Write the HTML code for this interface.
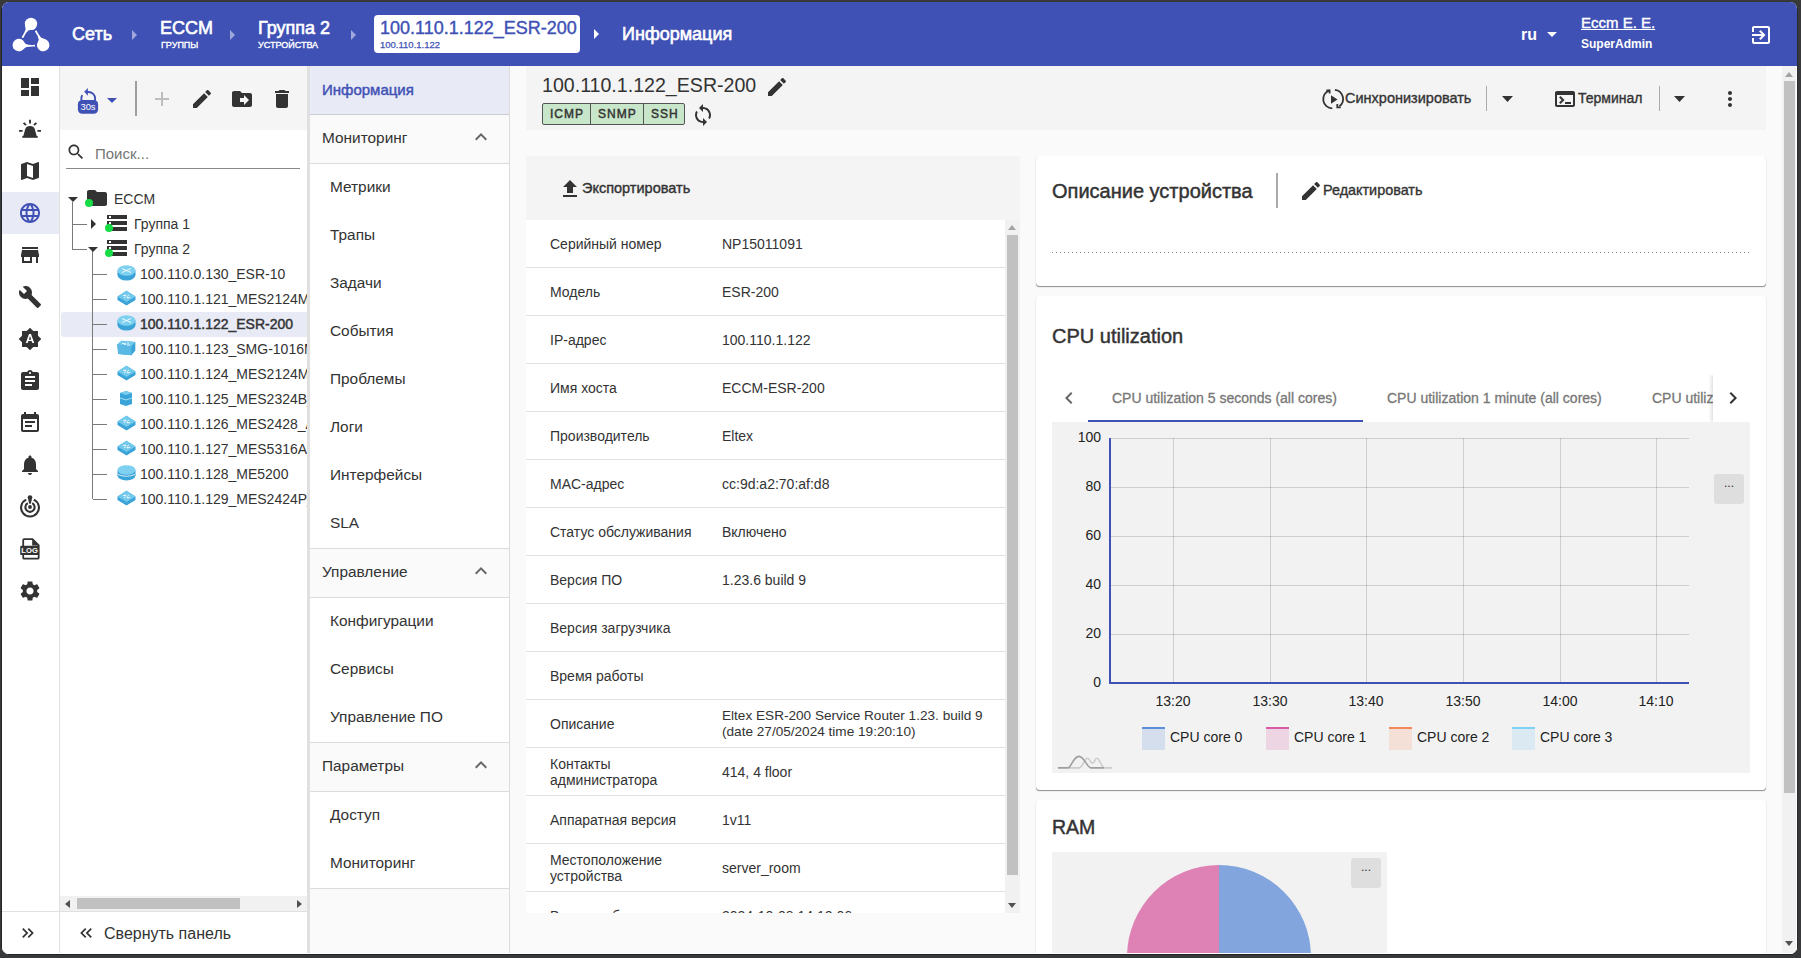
<!DOCTYPE html>
<html><head><meta charset="utf-8">
<style>
*{box-sizing:border-box;margin:0;padding:0}
html,body{width:1801px;height:958px;overflow:hidden;background:#38393b;font-family:"Liberation Sans",sans-serif;color:#333}
#win{position:absolute;left:0;top:0;width:1801px;height:958px;background:#fafafa;clip-path:inset(2px 4px 4px 2px round 7px)}
.a{position:absolute}
.t{position:absolute;white-space:nowrap;line-height:1}
svg{position:absolute;display:block;overflow:visible}
.b{font-weight:bold}
</style></head><body>
<div id="win">
<!-- HEADER -->
<div class="a" style="left:0;top:0;width:1801px;height:66px;background:#3f51b5"></div>
<!-- logo -->
<svg style="left:12px;top:17px" width="38" height="36" viewBox="0 0 38 36"><g fill="#fff"><g><circle cx="19" cy="6.9" r="6.2"/><path d="M13.1 8.5L13.6 12.6Q12.6 15.6 9.5 20.5L11.3 20.9Q13.6 15.6 16.4 13.6Q18.6 12.5 22 12.4L24 10z"/></g><g transform="rotate(120 19 21)"><circle cx="19" cy="6.9" r="6.2"/><path d="M13.1 8.5L13.6 12.6Q12.6 15.6 9.5 20.5L11.3 20.9Q13.6 15.6 16.4 13.6Q18.6 12.5 22 12.4L24 10z"/></g><g transform="rotate(240 19 21)"><circle cx="19" cy="6.9" r="6.2"/><path d="M13.1 8.5L13.6 12.6Q12.6 15.6 9.5 20.5L11.3 20.9Q13.6 15.6 16.4 13.6Q18.6 12.5 22 12.4L24 10z"/></g></g></svg>
<div class="t" style="left:72px;top:25px;font-size:18px;color:#fff;-webkit-text-stroke:0.6px #fff">Сеть</div>
<svg style="left:132px;top:30px" width="6" height="10"><path d="M0 0L5 5L0 10z" fill="#9fa8da"/></svg>
<div class="t" style="left:160px;top:19px;font-size:18px;color:#fff;-webkit-text-stroke:0.6px #fff">ECCM</div>
<div class="t" style="left:161px;top:40.5px;font-size:9px;color:#fff;-webkit-text-stroke:0.35px #fff">ГРУППЫ</div>
<svg style="left:230px;top:30px" width="6" height="10"><path d="M0 0L5 5L0 10z" fill="#9fa8da"/></svg>
<div class="t" style="left:258px;top:19px;font-size:18px;color:#fff;-webkit-text-stroke:0.6px #fff">Группа 2</div>
<div class="t" style="left:258px;top:40.5px;font-size:9px;color:#fff;-webkit-text-stroke:0.35px #fff">УСТРОЙСТВА</div>
<svg style="left:351px;top:30px" width="6" height="10"><path d="M0 0L5 5L0 10z" fill="#9fa8da"/></svg>
<div class="a" style="left:374px;top:15px;width:206px;height:38px;background:#fff;border-radius:4px"></div>
<div class="t" style="left:380px;top:19px;font-size:18px;color:#3f51b5;-webkit-text-stroke:0.4px #3f51b5">100.110.1.122_ESR-200</div>
<div class="t" style="left:380px;top:40px;font-size:9.5px;color:#3f51b5;-webkit-text-stroke:0.25px #3f51b5">100.110.1.122</div>
<svg style="left:594px;top:29px" width="6" height="10"><path d="M0 0L5 5L0 10z" fill="#fff"/></svg>
<div class="t" style="left:622px;top:25px;font-size:18px;color:#fff;-webkit-text-stroke:0.6px #fff">Информация</div>

<div class="t b" style="left:1521px;top:27px;font-size:16px;color:#fff">ru</div>
<svg style="left:1547px;top:32px" width="10" height="5"><path d="M0 0L10 0L5 5z" fill="#fff"/></svg>
<div class="t b" style="left:1581px;top:15px;font-size:15px;color:#fff;text-decoration:underline;font-weight:normal;-webkit-text-stroke:0.4px #fff">Eccm E. E.</div>
<div class="t b" style="left:1581px;top:38px;font-size:12px;color:#fff">SuperAdmin</div>
<svg style="left:1749px;top:23px" width="24" height="24" viewBox="0 0 24 24"><path fill="#fff" d="M10.09 15.59L11.5 17l5-5-5-5-1.41 1.41L12.67 11H3v2h9.67l-2.58 2.59zM19 3H5c-1.11 0-2 .9-2 2v4h2V5h14v14H5v-4H3v4c0 1.1.89 2 2 2h14c1.1 0 2-.9 2-2V5c0-1.1-.9-2-2-2z"/></svg>

<!-- RAIL -->
<div class="a" style="left:2px;top:66px;width:58px;height:890px;background:#fff;border-right:1px solid #e0e0e0"></div>
<div class="a" style="left:2px;top:192px;width:57px;height:42px;background:#e8eaf6"></div>
<svg style="left:18px;top:75px" width="24" height="24" viewBox="0 0 24 24"><path fill="#333" d="M3 13h8V3H3v10zm0 8h8v-6H3v6zm10 0h8V11h-8v10zm0-18v6h8V3h-8z"/></svg>
<svg style="left:18px;top:117px" width="24" height="24" viewBox="0 0 24 24"><path d="M5 20L7.2 12.3Q8.2 9 12 9Q15.8 9 16.8 12.3L19 20z" fill="#333"/><rect x="4.3" y="19" width="15.4" height="1.8" fill="#333"/><g stroke="#333" stroke-width="1.9"><path d="M12 2.8V6.6M5.6 5.8L8 8.2M18.4 5.8L16 8.2M1 13.9H4.6M19.4 13.9H23"/></g></svg>
<svg style="left:18px;top:159px" width="24" height="24" viewBox="0 0 24 24"><path fill="#333" d="M20.5 3l-.16.03L15 5.1 9 3 3.36 4.9c-.21.07-.36.25-.36.48V20.5c0 .28.22.5.5.5l.16-.03L9 18.9l6 2.1 5.64-1.9c.21-.07.36-.25.36-.48V3.5c0-.28-.22-.5-.5-.5zM15 19l-6-2.11V5l6 2.11V19z"/></svg>
<svg style="left:18px;top:201px" width="24" height="24" viewBox="0 0 24 24"><path fill="#3f51b5" d="M11.99 2C6.47 2 2 6.48 2 12s4.47 10 9.99 10C17.52 22 22 17.52 22 12S17.52 2 11.99 2zm6.93 6h-2.950c-.32-1.25-.78-2.45-1.38-3.56 1.84.63 3.37 1.91 4.33 3.56zM12 4.04c.83 1.2 1.48 2.53 1.91 3.96h-3.82c.43-1.43 1.08-2.76 1.910-3.96zM4.26 14C4.1 13.36 4 12.69 4 12s.1-1.36.26-2h3.38c-.08.66-.14 1.32-.14 2 0 .68.06 1.34.14 2H4.26zm.82 2h2.95c.32 1.25.78 2.45 1.38 3.56-1.84-.63-3.37-1.9-4.33-3.56zm2.95-8H5.08c.96-1.66 2.49-2.93 4.33-3.56C8.81 5.55 8.35 6.75 8.03 8zM12 19.96c-.83-1.2-1.48-2.53-1.91-3.96h3.82c-.43 1.43-1.08 2.76-1.91 3.960zM14.34 14H9.66c-.09-.66-.16-1.32-.16-2 0-.68.07-1.35.16-2h4.68c.09.65.16 1.32.16 2 0 .68-.07 1.34-.16 2zm.25 5.56c.6-1.11 1.06-2.31 1.38-3.56h2.95c-.96 1.65-2.49 2.93-4.33 3.56zM16.36 14c.08-.66.14-1.32.14-2 0-.68-.06-1.34-.14-2h3.38c.16.64.26 1.31.26 2s-.1 1.36-.26 2h-3.38z"/></svg>
<svg style="left:18px;top:243px" width="24" height="24" viewBox="0 0 24 24"><path fill="#333" d="M20 4H4v2h16V4zm1 10v-2l-1-5H4l-1 5v2h1v6h10v-6h4v6h2v-6h1zm-9 4H6v-4h6v4z"/></svg>
<svg style="left:18px;top:285px" width="24" height="24" viewBox="0 0 24 24"><path fill="#333" d="M22.7 19l-9.1-9.1c.9-2.3.4-5-1.5-6.9-2-2-5-2.4-7.4-1.3L9 6 6 9 1.6 4.7C.4 7.1.9 10.1 2.9 12.1c1.9 1.9 4.6 2.4 6.9 1.5l9.1 9.1c.4.4 1 .4 1.4 0l2.3-2.3c.5-.4.5-1.1.1-1.4z"/></svg>
<svg style="left:18px;top:327px" width="24" height="24" viewBox="0 0 24 24"><path fill="#333" d="M10.85 12.65h2.3L12 9l-1.15 3.65zM20 8.69V4h-4.69L12 .69 8.69 4H4v4.69L.69 12 4 15.31V20h4.69L12 23.31 15.31 20H20v-4.690L23.31 12 20 8.69zM14.3 16l-.7-2h-3.2l-.7 2H7.8L11 7h2l3.2 9h-1.9z"/></svg>
<svg style="left:18px;top:369px" width="24" height="24" viewBox="0 0 24 24"><path fill="#333" d="M19 3h-4.18C14.4 1.84 13.3 1 12 1c-1.3 0-2.4.84-2.82 2H5c-1.1 0-2 .9-2 2v14c0 1.1.9 2 2 2h14c1.1 0 2-.9 2-2V5c0-1.1-.9-2-2-2zm-7 0c.55 0 1 .45 1 1s-.45 1-1 1-1-.45-1-1 .45-1 1-1zm2 14H7v-2h7v2zm3-4H7v-2h10v2zm0-4H7V7h10v2z"/></svg>
<svg style="left:18px;top:411px" width="24" height="24" viewBox="0 0 24 24"><path fill="#333" d="M17 10H7v2h10v-2zm2-7h-1V1h-2v2H8V1H6v2H5c-1.11 0-1.99.9-1.99 2L3 19c0 1.1.89 2 2 2h14c1.1 0 2-.9 2-2V5c0-1.1-.9-2-2-2zm0 16H5V8h14v11zm-5-5H7v2h7v-2z"/></svg>
<svg style="left:18px;top:453px" width="24" height="24" viewBox="0 0 24 24"><path fill="#333" d="M12 22c1.1 0 2-.9 2-2h-4c0 1.1.89 2 2 2zm6-6v-5c0-3.07-1.64-5.64-4.5-6.32V4c0-.83-.67-1.5-1.5-1.5s-1.5.67-1.5 1.5v.68C7.63 5.36 6 7.92 6 11v5l-2 2v1h16v-1l-2-2z"/></svg>
<svg style="left:18px;top:495px" width="24" height="24" viewBox="0 0 24 24"><g fill="none" stroke="#333" stroke-width="2.1"><path d="M8.2 4.6A8.9 8.9 0 1 0 15.8 4.6"/><path d="M9.8 8.2A4.6 4.6 0 1 0 14.2 8.2"/></g><path d="M9.7 2.2Q9.7 0.2 12 0.2Q14.3 0.2 14.3 2.2L12.9 8.4Q12 9.2 11.1 8.4z" fill="#333"/><circle cx="12" cy="12" r="1.9" fill="#333"/></svg>
<svg style="left:18px;top:537px" width="24" height="24" viewBox="0 0 24 24"><path d="M5.2 3.2a1 1 0 0 1 1-1h8.3l6.2 6.2v12.3a1 1 0 0 1-1 1H6.2a1 1 0 0 1-1-1z" fill="none" stroke="#333" stroke-width="1.8"/><path d="M14.2 2.2v6.2h6.5z" fill="#333"/><rect x="2.2" y="8.7" width="18.6" height="9.4" rx="1.2" fill="#333"/><text x="11.6" y="16.3" font-size="7.6" font-weight="bold" text-anchor="middle" fill="#fff" font-family="Liberation Sans">LOG</text></svg>
<svg style="left:18px;top:579px" width="24" height="24" viewBox="0 0 24 24"><path fill="#333" d="M19.14 12.94c.04-.3.06-.61.06-.94 0-.32-.02-.64-.07-.94l2.03-1.58c.18-.14.23-.41.12-.61l-1.92-3.32c-.12-.22-.37-.29-.59-.22l-2.39.96c-.5-.38-1.03-.7-1.62-.94l-.36-2.54c-.04-.24-.24-.41-.48-.41h-3.84c-.24 0-.43.17-.47.41l-.36 2.54c-.59.24-1.13.57-1.62.94l-2.39-.96c-.22-.08-.47 0-.59.22L2.74 8.870c-.12.21-.08.47.12.61l2.03 1.58c-.05.3-.09.63-.09.94s.02.64.07.94l-2.03 1.58c-.18.14-.23.41-.12.61l1.92 3.32c.12.22.37.29.59.22l2.39-.96c.5.38 1.03.7 1.62.94l.36 2.54c.05.24.24.41.48.41h3.84c.24 0 .44-.17.47-.41l.36-2.54c.59-.24 1.130-.56 1.62-.94l2.39.96c.22.08.47 0 .59-.22l1.92-3.32c.12-.22.07-.47-.12-.61l-2.01-1.58zM12 15.6c-1.98 0-3.6-1.62-3.6-3.6s1.62-3.6 3.6-3.6 3.6 1.62 3.6 3.6-1.62 3.6-3.6 3.6z"/></svg>
<div class="a" style="left:2px;top:911px;width:57px;height:1px;background:#e0e0e0"></div>
<svg style="left:18px;top:923px" width="20" height="20" viewBox="0 0 24 24"><path fill="#333" d="M6.41 6L5 7.41 9.58 12 5 16.59 6.41 18l6-6z M13 6l-1.41 1.41L16.17 12l-4.58 4.59L13 18l6-6z"/></svg>

<!-- TREE PANEL -->
<div class="a" style="left:60px;top:66px;width:247px;height:64px;background:#f5f5f5"></div>
<div class="a" style="left:60px;top:130px;width:247px;height:780px;background:#fff"></div>
<div class="a" style="left:307px;top:66px;width:3px;height:890px;background:#e0e0e0"></div>
<!-- 30s icon -->
<svg style="left:77px;top:88px" width="22" height="26" viewBox="0 0 22 26"><g fill="none" stroke="#3f51b5" stroke-width="1.9"><path d="M18.1 12.8V10.6A6.6 6.6 0 0 0 11.5 4H10.2"/><path d="M4.4 12.8V9.8Q4.5 8.2 5.4 7.2"/></g><path d="M7.2 3.8L10.9 0V7.7z" fill="#3f51b5"/><rect x="0.9" y="12.1" width="20.2" height="13.7" rx="4.2" fill="#3f51b5"/><text x="11" y="22.2" font-size="9.4" text-anchor="middle" fill="#fff" font-family="Liberation Sans">30s</text></svg>
<svg style="left:107px;top:98px" width="10" height="5"><path d="M0 0L10 0L5 5z" fill="#3f51b5"/></svg>
<div class="a" style="left:135px;top:81px;width:2px;height:35px;background:#9e9e9e"></div>
<svg style="left:150px;top:87px" width="24" height="24" viewBox="0 0 24 24"><path fill="#bdbdbd" d="M19 13h-6v6h-2v-6H5v-2h6V5h2v6h6v2z"/></svg>
<svg style="left:190px;top:87px" width="24" height="24" viewBox="0 0 24 24"><path fill="#333" d="M3 17.25V21h3.75L17.81 9.94l-3.75-3.75L3 17.25zM20.71 7.04c.39-.39.39-1.02 0-1.41l-2.34-2.34c-.39-.39-1.020-.39-1.41 0l-1.83 1.83 3.75 3.75 1.83-1.83z"/></svg>
<svg style="left:230px;top:87px" width="24" height="24" viewBox="0 0 24 24"><path fill="#333" d="M20 6h-8l-2-2H4c-1.1 0-1.99.9-1.99 2L2 18c0 1.1.9 2 2 2h16c1.1 0 2-.9 2-2V8c0-1.1-.9-2-2-2zm-6 12v-3h-4v-4h4V8l5 5-5 5z"/></svg>
<svg style="left:270px;top:87px" width="24" height="24" viewBox="0 0 24 24"><path fill="#333" d="M6 19c0 1.1.9 2 2 2h8c1.1 0 2-.9 2-2V7H6v12zM19 4h-3.5l-1-1h-5l-1 1H5v2h14V4z"/></svg>
<!-- search -->
<svg style="left:66px;top:142px" width="20" height="20" viewBox="0 0 24 24"><path fill="#333" d="M15.5 14h-.79l-.28-.27C15.41 12.59 16 11.11 16 9.5 16 5.91 13.09 3 9.5 3S3 5.91 3 9.5 5.91 16 9.5 16c1.61 0 3.09-.59 4.23-1.57l.27.28v.79l5 4.99L20.49 19l-4.99-5zm-6 0C7.01 14 5 11.99 5 9.5S7.01 5 9.5 5 14 7.01 14 9.5 11.99 14 9.5 14z"/></svg>
<div class="t" style="left:95px;top:146px;font-size:15px;color:#757575">Поиск...</div>
<div class="a" style="left:66px;top:168px;width:234px;height:1px;background:#8a8a8a"></div>
<!-- tree lines -->
<div class="a" style="left:61px;top:312px;width:246px;height:25px;background:#e8eaf6;border-radius:3px 0 0 3px"></div>
<div class="a" style="left:72px;top:202px;width:1px;height:48px;background:#7a7a7a"></div>
<div class="a" style="left:72px;top:224px;width:15px;height:1px;background:#7a7a7a"></div>
<div class="a" style="left:72px;top:249px;width:15px;height:1px;background:#7a7a7a"></div>
<div class="a" style="left:92px;top:251px;width:1px;height:248px;background:#7a7a7a"></div>
<svg style="left:68px;top:197px" width="10" height="5"><path d="M0 0L10 0L5 5z" fill="#333"/></svg>
<svg style="left:91px;top:219px" width="6" height="10"><path d="M0 0L5 5L0 10z" fill="#333"/></svg>
<svg style="left:88px;top:247px" width="10" height="5"><path d="M0 0L10 0L5 5z" fill="#333"/></svg>
<svg style="left:85px;top:186px" width="24" height="24" viewBox="0 0 24 24"><path fill="#333" d="M10 4H4c-1.1 0-1.99.9-1.99 2L2 18c0 1.1.9 2 2 2h16c1.1 0 2-.9 2-2V8c0-1.1-.9-2-2-2h-8l-2-2z"/></svg>
<div class="a" style="left:85px;top:199px;width:8px;height:8px;border-radius:50%;background:#17dc45"></div>
<div class="t" style="left:114px;top:192px;font-size:14px;color:#333">ECCM</div>
<svg style="left:107px;top:215px" width="20" height="16" viewBox="0 0 20 16"><g fill="#333"><rect x="0" y="0" width="20" height="4"/><rect x="0" y="6" width="20" height="4"/><rect x="0" y="12" width="20" height="4"/></g><g fill="#fff"><rect x="2" y="1" width="2" height="2"/><rect x="2" y="7" width="2" height="2"/></g></svg><div class="a" style="left:105px;top:224px;width:8px;height:8px;border-radius:50%;background:#17dc45"></div><div class="t" style="left:134px;top:217px;font-size:14px;color:#333">Группа 1</div><svg style="left:107px;top:240px" width="20" height="16" viewBox="0 0 20 16"><g fill="#333"><rect x="0" y="0" width="20" height="4"/><rect x="0" y="6" width="20" height="4"/><rect x="0" y="12" width="20" height="4"/></g><g fill="#fff"><rect x="2" y="1" width="2" height="2"/><rect x="2" y="7" width="2" height="2"/></g></svg><div class="a" style="left:105px;top:249px;width:8px;height:8px;border-radius:50%;background:#17dc45"></div><div class="t" style="left:134px;top:242px;font-size:14px;color:#333">Группа 2</div><div class="a" style="left:93px;top:274px;width:14px;height:1px;background:#7a7a7a"></div><svg style="left:117px;top:265px" width="19" height="16" viewBox="0 0 19 16"><ellipse cx="9.5" cy="10" rx="9" ry="5.5" fill="#3aa3d8"/><rect x="0.5" y="5.5" width="18" height="4.5" fill="#3aa3d8"/><ellipse cx="9.5" cy="5.5" rx="9" ry="5.2" fill="#7dd0ef"/><path d="M5 3.5L14 7.5M14 3.5L5 7.5" stroke="#fff" stroke-width="0.9"/></svg><div class="t" style="left:140px;top:267px;width:167px;overflow:hidden;padding-bottom:4px;font-size:14px;color:#333;">100.110.0.130_ESR-10</div><div class="a" style="left:93px;top:299px;width:14px;height:1px;background:#7a7a7a"></div><svg style="left:117px;top:290px" width="19" height="16" viewBox="0 0 19 16"><path d="M0.5 6.5L9.5 1L18.5 6.5V10L9.5 15.5L0.5 10z" fill="#3aa3d8"/><path d="M0.5 6.5L9.5 0.5L18.5 6.5L9.5 12z" fill="#72c9ec"/><path d="M6 5.5h3l-1-1M13 7.5h-3l1 1M7 8l2-1.5M12 5l-2 1.5" stroke="#fff" stroke-width="0.8" fill="none"/></svg><div class="t" style="left:140px;top:292px;width:167px;overflow:hidden;padding-bottom:4px;font-size:14px;color:#333;">100.110.1.121_MES2124MB</div><div class="a" style="left:93px;top:324px;width:14px;height:1px;background:#7a7a7a"></div><svg style="left:117px;top:315px" width="19" height="16" viewBox="0 0 19 16"><ellipse cx="9.5" cy="10" rx="9" ry="5.5" fill="#3aa3d8"/><rect x="0.5" y="5.5" width="18" height="4.5" fill="#3aa3d8"/><ellipse cx="9.5" cy="5.5" rx="9" ry="5.2" fill="#7dd0ef"/><path d="M5 3.5L14 7.5M14 3.5L5 7.5" stroke="#fff" stroke-width="0.9"/></svg><div class="t" style="left:140px;top:317px;width:167px;overflow:hidden;padding-bottom:4px;font-size:14px;color:#333;-webkit-text-stroke:0.45px #333;">100.110.1.122_ESR-200</div><div class="a" style="left:93px;top:349px;width:14px;height:1px;background:#7a7a7a"></div><svg style="left:117px;top:340px" width="19" height="16" viewBox="0 0 19 16"><path d="M0.3 4.5L4.5 0.8L18.3 2V10.5L14.5 15.2L1.2 14z" fill="#3aa3d8"/><path d="M0.3 4.5L4.5 0.8L18.3 2L14.3 6.2z" fill="#72c9ec"/><path d="M0.3 4.5L14.3 6.2L14.5 15.2L1.2 14z" fill="#5ab8e4"/><circle cx="8" cy="4" r="0.9" fill="#fff"/><circle cx="11" cy="3" r="0.7" fill="#fff"/><path d="M5 3.5h2M10 5h3" stroke="#fff" stroke-width="0.8"/></svg><div class="t" style="left:140px;top:342px;width:167px;overflow:hidden;padding-bottom:4px;font-size:14px;color:#333;">100.110.1.123_SMG-1016M</div><div class="a" style="left:93px;top:374px;width:14px;height:1px;background:#7a7a7a"></div><svg style="left:117px;top:365px" width="19" height="16" viewBox="0 0 19 16"><path d="M0.5 6.5L9.5 1L18.5 6.5V10L9.5 15.5L0.5 10z" fill="#3aa3d8"/><path d="M0.5 6.5L9.5 0.5L18.5 6.5L9.5 12z" fill="#72c9ec"/><path d="M6 5.5h3l-1-1M13 7.5h-3l1 1M7 8l2-1.5M12 5l-2 1.5" stroke="#fff" stroke-width="0.8" fill="none"/></svg><div class="t" style="left:140px;top:367px;width:167px;overflow:hidden;padding-bottom:4px;font-size:14px;color:#333;">100.110.1.124_MES2124MB</div><div class="a" style="left:93px;top:399px;width:14px;height:1px;background:#7a7a7a"></div><svg style="left:117px;top:390px" width="19" height="16" viewBox="0 0 19 16"><path d="M3 3L9 1L15 3V14L9 16L3 14z" fill="#3aa3d8"/><path d="M3 3L9 1L15 3L9 5z" fill="#79cdee"/><path d="M3 8L9 10L15 8" stroke="#9fe0f5" stroke-width="1" fill="none"/></svg><div class="t" style="left:140px;top:392px;width:167px;overflow:hidden;padding-bottom:4px;font-size:14px;color:#333;">100.110.1.125_MES2324B_</div><div class="a" style="left:93px;top:424px;width:14px;height:1px;background:#7a7a7a"></div><svg style="left:117px;top:415px" width="19" height="16" viewBox="0 0 19 16"><path d="M0.5 6.5L9.5 1L18.5 6.5V10L9.5 15.5L0.5 10z" fill="#3aa3d8"/><path d="M0.5 6.5L9.5 0.5L18.5 6.5L9.5 12z" fill="#72c9ec"/><path d="M6 5.5h3l-1-1M13 7.5h-3l1 1M7 8l2-1.5M12 5l-2 1.5" stroke="#fff" stroke-width="0.8" fill="none"/></svg><div class="t" style="left:140px;top:417px;width:167px;overflow:hidden;padding-bottom:4px;font-size:14px;color:#333;">100.110.1.126_MES2428_A</div><div class="a" style="left:93px;top:449px;width:14px;height:1px;background:#7a7a7a"></div><svg style="left:117px;top:440px" width="19" height="16" viewBox="0 0 19 16"><path d="M0.5 6.5L9.5 1L18.5 6.5V10L9.5 15.5L0.5 10z" fill="#3aa3d8"/><path d="M0.5 6.5L9.5 0.5L18.5 6.5L9.5 12z" fill="#72c9ec"/><path d="M6 5.5h3l-1-1M13 7.5h-3l1 1M7 8l2-1.5M12 5l-2 1.5" stroke="#fff" stroke-width="0.8" fill="none"/></svg><div class="t" style="left:140px;top:442px;width:167px;overflow:hidden;padding-bottom:4px;font-size:14px;color:#333;">100.110.1.127_MES5316A</div><div class="a" style="left:93px;top:474px;width:14px;height:1px;background:#7a7a7a"></div><svg style="left:117px;top:465px" width="19" height="16" viewBox="0 0 19 16"><ellipse cx="9.5" cy="10.5" rx="9" ry="5" fill="#3aa3d8"/><rect x="0.5" y="5" width="18" height="5.5" fill="#3aa3d8"/><ellipse cx="9.5" cy="5" rx="9" ry="4.8" fill="#7dd0ef"/><path d="M1 9.5Q9.5 13 18 9.5" stroke="#fff" stroke-width="0.8" fill="none"/></svg><div class="t" style="left:140px;top:467px;width:167px;overflow:hidden;padding-bottom:4px;font-size:14px;color:#333;">100.110.1.128_ME5200</div><div class="a" style="left:93px;top:499px;width:14px;height:1px;background:#7a7a7a"></div><svg style="left:117px;top:490px" width="19" height="16" viewBox="0 0 19 16"><path d="M0.5 6.5L9.5 1L18.5 6.5V10L9.5 15.5L0.5 10z" fill="#3aa3d8"/><path d="M0.5 6.5L9.5 0.5L18.5 6.5L9.5 12z" fill="#72c9ec"/><path d="M6 5.5h3l-1-1M13 7.5h-3l1 1M7 8l2-1.5M12 5l-2 1.5" stroke="#fff" stroke-width="0.8" fill="none"/></svg><div class="t" style="left:140px;top:492px;width:167px;overflow:hidden;padding-bottom:4px;font-size:14px;color:#333;">100.110.1.129_MES2424P_</div>
<div class="a" style="left:60px;top:102px;width:0;height:0"></div>
<!-- horizontal scrollbar -->
<div class="a" style="left:60px;top:910px;width:247px;height:46px;background:#fff"></div>
<div class="a" style="left:60px;top:896px;width:247px;height:15px;background:#f1f1f1"></div>
<div class="a" style="left:77px;top:898px;width:163px;height:11px;background:#c1c1c1"></div>
<svg style="left:65px;top:900px" width="5" height="8"><path d="M5 0L0 4L5 8z" fill="#505050"/></svg>
<svg style="left:297px;top:900px" width="5" height="8"><path d="M0 0L5 4L0 8z" fill="#505050"/></svg>
<div class="a" style="left:60px;top:911px;width:247px;height:1px;background:#e0e0e0"></div>
<div class="a" style="left:59px;top:910px;width:1px;height:46px;background:#e0e0e0"></div>
<svg style="left:76px;top:923px" width="20" height="20" viewBox="0 0 24 24"><path fill="#333" d="M17.59 18L19 16.59 14.42 12 19 7.41 17.59 6l-6 6z M11 18l1.41-1.41L7.83 12l4.58-4.59L11 6l-6 6z"/></svg>
<div class="t" style="left:104px;top:926px;font-size:16px;color:#333">Свернуть панель</div>

<!-- NAV COL -->
<div class="a" style="left:310px;top:66px;width:200px;height:890px;background:#fafafa;border-right:1px solid #dcdcdc"></div>
<div class="a" style="left:310px;top:66px;width:199px;height:48px;background:#e8eaf6"></div>
<div class="a" style="left:310px;top:114px;width:199px;height:1px;background:#c9cbd6"></div>
<div class="t" style="left:322px;top:82px;font-size:15px;color:#3f51b5;-webkit-text-stroke:0.45px #3f51b5">Информация</div>
<div class="a" style="left:310px;top:163px;width:199px;height:1px;background:#dcdcdc"></div>
<div class="t" style="left:322px;top:130px;font-size:15.4px;color:#333">Мониторинг</div>
<svg style="left:469px;top:125px" width="24" height="24" viewBox="0 0 24 24"><path fill="#666" d="M12 8l-6 6 1.41 1.41L12 10.83l4.59 4.58L18 14z"/></svg>
<div class="a" style="left:310px;top:164px;width:199px;height:384px;background:#fff"></div><div class="t" style="left:330px;top:179px;font-size:15.4px;color:#333">Метрики</div><div class="t" style="left:330px;top:227px;font-size:15.4px;color:#333">Трапы</div><div class="t" style="left:330px;top:275px;font-size:15.4px;color:#333">Задачи</div><div class="t" style="left:330px;top:323px;font-size:15.4px;color:#333">События</div><div class="t" style="left:330px;top:371px;font-size:15.4px;color:#333">Проблемы</div><div class="t" style="left:330px;top:419px;font-size:15.4px;color:#333">Логи</div><div class="t" style="left:330px;top:467px;font-size:15.4px;color:#333">Интерфейсы</div><div class="t" style="left:330px;top:515px;font-size:15.4px;color:#333">SLA</div><div class="a" style="left:310px;top:548px;width:199px;height:1px;background:#dcdcdc"></div><div class="a" style="left:310px;top:597px;width:199px;height:1px;background:#dcdcdc"></div>
<div class="t" style="left:322px;top:564px;font-size:15.4px;color:#333">Управление</div>
<svg style="left:469px;top:559px" width="24" height="24" viewBox="0 0 24 24"><path fill="#666" d="M12 8l-6 6 1.41 1.41L12 10.83l4.59 4.58L18 14z"/></svg>
<div class="a" style="left:310px;top:598px;width:199px;height:144px;background:#fff"></div><div class="t" style="left:330px;top:613px;font-size:15.4px;color:#333">Конфигурации</div><div class="t" style="left:330px;top:661px;font-size:15.4px;color:#333">Сервисы</div><div class="t" style="left:330px;top:709px;font-size:15.4px;color:#333">Управление ПО</div><div class="a" style="left:310px;top:742px;width:199px;height:1px;background:#dcdcdc"></div><div class="a" style="left:310px;top:791px;width:199px;height:1px;background:#dcdcdc"></div>
<div class="t" style="left:322px;top:758px;font-size:15.4px;color:#333">Параметры</div>
<svg style="left:469px;top:753px" width="24" height="24" viewBox="0 0 24 24"><path fill="#666" d="M12 8l-6 6 1.41 1.41L12 10.83l4.59 4.58L18 14z"/></svg>
<div class="a" style="left:310px;top:792px;width:199px;height:96px;background:#fff"></div><div class="t" style="left:330px;top:807px;font-size:15.4px;color:#333">Доступ</div><div class="t" style="left:330px;top:855px;font-size:15.4px;color:#333">Мониторинг</div><div class="a" style="left:310px;top:888px;width:199px;height:1px;background:#dcdcdc"></div>
<!-- CONTENT HEADER -->
<div class="a" style="left:526px;top:66px;width:1240px;height:64px;background:#f4f4f4"></div>
<div class="t" style="left:542px;top:76px;font-size:19.6px;color:#333">100.110.1.122_ESR-200</div>
<svg style="left:765px;top:75px" width="24" height="24" viewBox="0 0 24 24"><path fill="#333" d="M3 17.25V21h3.75L17.81 9.94l-3.75-3.75L3 17.25zM20.71 7.04c.39-.39.39-1.02 0-1.41l-2.34-2.34c-.39-.39-1.02-.39-1.41 0l-1.83 1.830 3.75 3.75 1.83-1.83z"/></svg>
<div class="a" style="left:542px;top:103px;width:143px;height:22px;background:#c8e6c9;border:1px solid #555;border-radius:2px"></div>
<div class="a" style="left:590px;top:103px;width:1px;height:22px;background:#555"></div>
<div class="a" style="left:643px;top:103px;width:1px;height:22px;background:#555"></div>
<div class="t b" style="left:550px;top:108px;font-size:12px;letter-spacing:1px;color:#333;font-weight:normal;-webkit-text-stroke:0.45px #333">ICMP</div>
<div class="t b" style="left:598px;top:108px;font-size:12px;letter-spacing:1px;color:#333;font-weight:normal;-webkit-text-stroke:0.45px #333">SNMP</div>
<div class="t b" style="left:651px;top:108px;font-size:12px;letter-spacing:1px;color:#333;font-weight:normal;-webkit-text-stroke:0.45px #333">SSH</div>
<svg style="left:691px;top:103px" width="24" height="24" viewBox="0 0 24 24"><path fill="#333" d="M12 4V1L8 5l4 4V6c3.31 0 6 2.69 6 6 0 1.01-.25 1.97-.7 2.8l1.46 1.46C19.54 15.03 20 13.57 20 12c0-4.42-3.58-8-8-8zm0 14c-3.31 0-6-2.69-6-6 0-1.01.25-1.97.7-2.8L5.24 7.74C4.46 8.97 4 10.430 4 12c0 4.42 3.58 8 8 8v3l4-4-4-4v3z"/></svg>
<!-- right actions -->
<svg style="left:1320.5px;top:87px" width="24" height="24" viewBox="0 0 24 24"><g fill="none" stroke="#333" stroke-width="1.8"><path d="M11.3 21.3A9.2 9.2 0 0 1 8.4 3.4"/><path d="M13.9 2.8A9.2 9.2 0 0 1 18.4 19.3"/><path d="M5.4 3.3H8.6V6.6M16.3 16.9V20.3H19.7" stroke-linejoin="miter"/></g><path d="M10 8.3V16.8L16.5 12.5z" fill="#333"/></svg>
<div class="t" style="left:1345px;top:91px;font-size:14.5px;color:#333;-webkit-text-stroke:0.35px #333">Синхронизировать</div>
<div class="a" style="left:1486px;top:86px;width:1px;height:25px;background:#aaa"></div>
<svg style="left:1502px;top:96px" width="11" height="6"><path d="M0 0L11 0L5.5 6z" fill="#333"/></svg>
<svg style="left:1553px;top:87px" width="24" height="24" viewBox="0 0 24 24"><path fill="#333" d="M20 4H4c-1.11 0-2 .9-2 2v12c0 1.1.89 2 2 2h16c1.1 0 2-.9 2-2V6c0-1.1-.89-2-2-2zm0 14H4V8h16v10zm-2-1h-6v-2h6v2zM7.5 17l-1.41-1.41L8.67 13l-2.59-2.59L7.5 9l4 4-4 4z"/></svg>
<div class="t" style="left:1578px;top:91px;font-size:14px;color:#333;-webkit-text-stroke:0.35px #333">Терминал</div>
<div class="a" style="left:1659px;top:86px;width:1px;height:25px;background:#aaa"></div>
<svg style="left:1674px;top:96px" width="11" height="6"><path d="M0 0L11 0L5.5 6z" fill="#333"/></svg>
<svg style="left:1718px;top:87px" width="24" height="24" viewBox="0 0 24 24"><path fill="#333" d="M12 8c1.1 0 2-.9 2-2s-.9-2-2-2-2 .9-2 2 .9 2 2 2zm0 2c-1.1 0-2 .9-2 2s.9 2 2 2 2-.9 2-2-.9-2-2-2zm0 6c-1.1 0-2 .9-2 2s.9 2 2 2 2-.9 2-2-.9-2-2-2z"/></svg>

<!-- RIGHT CARDS -->
<div class="a" style="left:1036px;top:156px;width:730px;height:130px;background:#fff;border-radius:4px;box-shadow:0 1px 1px -0.5px rgba(0,0,0,.45)"></div>
<div class="t" style="left:1052px;top:181px;font-size:20px;color:#333;-webkit-text-stroke:0.45px #333">Описание устройства</div>
<div class="a" style="left:1276px;top:173px;width:2px;height:35px;background:#aaa"></div>
<svg style="left:1299px;top:179px" width="24" height="24" viewBox="0 0 24 24"><path fill="#333" d="M3 17.25V21h3.75L17.81 9.94l-3.75-3.75L3 17.25zM20.71 7.04c.39-.39.39-1.02 0-1.41l-2.34-2.34c-.39-.39-1.02-.39-1.41 0l-1.83 1.83 3.75 3.75 1.83-1.83z"/></svg>
<div class="t" style="left:1323px;top:183px;font-size:14.4px;color:#333;-webkit-text-stroke:0.35px #333">Редактировать</div>
<div class="a" style="left:1052px;top:252px;width:698px;height:1px;background-image:linear-gradient(to right,#888 1px,transparent 1px);background-size:4px 1px"></div>

<div class="a" style="left:1036px;top:296px;width:730px;height:494px;background:#fff;border-radius:4px;box-shadow:0 1px 1px -0.5px rgba(0,0,0,.45)"></div>
<div class="t" style="left:1052px;top:326px;font-size:20px;color:#333;-webkit-text-stroke:0.45px #333">CPU utilization</div>
<div class="a" style="left:1052px;top:375px;width:698px;height:398px;overflow:hidden">
 <svg style="left:5px;top:11px" width="24" height="24" viewBox="0 0 24 24"><path fill="#666" d="M15.41 7.41L14 6l-6 6 6 6 1.41-1.41L10.83 12z"/></svg>
 <div class="t" style="left:60px;top:16px;font-size:14px;color:#777;-webkit-text-stroke:0.3px #777">CPU utilization 5 seconds (all cores)</div>
 <div class="a" style="left:36px;top:45px;width:275px;height:2px;background:#3f51b5"></div>
 <div class="t" style="left:335px;top:16px;font-size:14px;color:#777;-webkit-text-stroke:0.3px #777">CPU utilization 1 minute (all cores)</div>
 <div class="t" style="left:600px;top:16px;font-size:14px;color:#777;-webkit-text-stroke:0.3px #777">CPU utilization 15 minutes</div>
 <div class="a" style="left:661px;top:0;width:37px;height:47px;background:#fff;box-shadow:-2px 0 3px rgba(0,0,0,.12)"></div>
 <svg style="left:669px;top:11px" width="24" height="24" viewBox="0 0 24 24"><path fill="#333" d="M10 6L8.59 7.41 13.17 12l-4.58 4.59L10 18l6-6z"/></svg>
 <div class="a" style="left:0;top:47px;width:698px;height:351px;background:#f2f2f2"></div>
</div>
<div class="t" style="left:1000px;width:101px;text-align:right;top:430px;font-size:14px;color:#222">100</div><div class="a" style="left:1110px;top:438px;width:579px;height:1px;background:rgba(0,0,0,.15)"></div><div class="t" style="left:1000px;width:101px;text-align:right;top:479px;font-size:14px;color:#222">80</div><div class="a" style="left:1110px;top:487px;width:579px;height:1px;background:rgba(0,0,0,.15)"></div><div class="t" style="left:1000px;width:101px;text-align:right;top:528px;font-size:14px;color:#222">60</div><div class="a" style="left:1110px;top:536px;width:579px;height:1px;background:rgba(0,0,0,.15)"></div><div class="t" style="left:1000px;width:101px;text-align:right;top:577px;font-size:14px;color:#222">40</div><div class="a" style="left:1110px;top:585px;width:579px;height:1px;background:rgba(0,0,0,.15)"></div><div class="t" style="left:1000px;width:101px;text-align:right;top:626px;font-size:14px;color:#222">20</div><div class="a" style="left:1110px;top:634px;width:579px;height:1px;background:rgba(0,0,0,.15)"></div><div class="t" style="left:1000px;width:101px;text-align:right;top:675px;font-size:14px;color:#222">0</div><div class="a" style="left:1110px;top:683px;width:579px;height:1px;background:rgba(0,0,0,.15)"></div><div class="a" style="left:1173px;top:438px;width:1px;height:245px;background:rgba(0,0,0,.15)"></div><div class="t" style="left:1143px;width:60px;text-align:center;top:694px;font-size:14px;color:#222">13:20</div><div class="a" style="left:1270px;top:438px;width:1px;height:245px;background:rgba(0,0,0,.15)"></div><div class="t" style="left:1240px;width:60px;text-align:center;top:694px;font-size:14px;color:#222">13:30</div><div class="a" style="left:1366px;top:438px;width:1px;height:245px;background:rgba(0,0,0,.15)"></div><div class="t" style="left:1336px;width:60px;text-align:center;top:694px;font-size:14px;color:#222">13:40</div><div class="a" style="left:1463px;top:438px;width:1px;height:245px;background:rgba(0,0,0,.15)"></div><div class="t" style="left:1433px;width:60px;text-align:center;top:694px;font-size:14px;color:#222">13:50</div><div class="a" style="left:1560px;top:438px;width:1px;height:245px;background:rgba(0,0,0,.15)"></div><div class="t" style="left:1530px;width:60px;text-align:center;top:694px;font-size:14px;color:#222">14:00</div><div class="a" style="left:1656px;top:438px;width:1px;height:245px;background:rgba(0,0,0,.15)"></div><div class="t" style="left:1626px;width:60px;text-align:center;top:694px;font-size:14px;color:#222">14:10</div><div class="a" style="left:1109px;top:438px;width:2px;height:246px;background:#3f51b5"></div><div class="a" style="left:1109px;top:682px;width:580px;height:2px;background:#3f51b5"></div><div class="a" style="left:1142px;top:727px;width:23px;height:23px;background:#d5deec;border-top:2px solid #5b8fd9"></div><div class="t" style="left:1170px;top:730px;font-size:14px;color:#222">CPU core 0</div><div class="a" style="left:1266px;top:727px;width:23px;height:23px;background:#eed5e3;border-top:2px solid #d95ba6"></div><div class="t" style="left:1294px;top:730px;font-size:14px;color:#222">CPU core 1</div><div class="a" style="left:1389px;top:727px;width:23px;height:23px;background:#f5e0d8;border-top:2px solid #f5875b"></div><div class="t" style="left:1417px;top:730px;font-size:14px;color:#222">CPU core 2</div><div class="a" style="left:1512px;top:727px;width:23px;height:23px;background:#dbeaf2;border-top:2px solid #7fd2f5"></div><div class="t" style="left:1540px;top:730px;font-size:14px;color:#222">CPU core 3</div>
<div class="a" style="left:1714px;top:474px;width:30px;height:30px;background:#dedede;border-radius:3px"></div>
<div class="t" style="left:1714px;width:30px;text-align:center;top:477px;font-size:12px;color:#333">...</div>
<svg style="left:1058px;top:755px" width="56" height="16" viewBox="0 0 56 16"><path d="M10 12.9H21C25 12.9 26 3.2 29.8 3.2C31.8 3.2 32.6 8.3 34.4 8.3C36.2 8.3 37 3.2 39 3.2C41.5 3.2 44 12.9 46.5 12.9H53.8" stroke="#ccc" stroke-width="1.6" fill="none"/><path d="M0 12.9H10C13 12.9 15.5 1.4 20.9 1.4C26.5 1.4 29 12.9 33 12.9H45.8" stroke="#9e9e9e" stroke-width="1.6" fill="none"/></svg>

<div class="a" style="left:1036px;top:800px;width:730px;height:200px;background:#fff;border-radius:4px;box-shadow:0 1px 1px -0.5px rgba(0,0,0,.45)"></div>
<div class="t" style="left:1052px;top:818px;font-size:19.5px;color:#333;-webkit-text-stroke:0.45px #333">RAM</div>
<div class="a" style="left:1052px;top:852px;width:335px;height:150px;background:#f2f2f2;overflow:hidden">
 <svg style="left:75px;top:13px" width="184" height="184" viewBox="0 0 184 184"><path d="M92 92V0A92 92 0 0 1 92 184z" fill="#82a5de"/><path d="M92 92V0A92 92 0 0 0 92 184z" fill="#de82b6"/></svg>
 <div class="a" style="left:299px;top:6px;width:30px;height:30px;background:#dedede;border-radius:3px"></div>
 <div class="t" style="left:299px;width:30px;text-align:center;top:9px;font-size:12px;color:#333">...</div>
</div>

<!-- page scrollbar -->
<div class="a" style="left:1782px;top:66px;width:15px;height:890px;background:#f1f1f1"></div>
<div class="a" style="left:1784px;top:81px;width:11px;height:712px;background:#c1c1c1"></div>
<svg style="left:1785px;top:72px" width="8" height="5"><path d="M0 5L4 0L8 5z" fill="#a3a3a3"/></svg>
<svg style="left:1785px;top:941px" width="8" height="5"><path d="M0 0L8 0L4 5z" fill="#505050"/></svg>

<!-- INFO CARD -->
<div class="a" style="left:526px;top:156px;width:494px;height:64px;background:#f4f4f4"></div>
<svg style="left:558px;top:177px" width="24" height="24" viewBox="0 0 24 24"><path fill="#333" d="M9 16h6v-6h4l-7-7-7 7h4zm-4 2h14v2H5z"/></svg>
<div class="t" style="left:582px;top:181px;font-size:14.5px;color:#333;-webkit-text-stroke:0.4px #333">Экспортировать</div>
<div class="a" style="left:526px;top:220px;width:494px;height:693px;background:#fff;overflow:hidden">
<div class="a" style="left:0;top:0px;width:479px;height:48px;border-bottom:1px solid #e0e0e0"></div><div class="t" style="left:24px;top:18px;font-size:14px;line-height:16px;color:#333;margin-top:-2px">Серийный номер</div><div class="t" style="left:196px;top:18px;font-size:14px;line-height:16px;color:#333;margin-top:-2px">NP15011091</div><div class="a" style="left:0;top:48px;width:479px;height:48px;border-bottom:1px solid #e0e0e0"></div><div class="t" style="left:24px;top:66px;font-size:14px;line-height:16px;color:#333;margin-top:-2px">Модель</div><div class="t" style="left:196px;top:66px;font-size:14px;line-height:16px;color:#333;margin-top:-2px">ESR-200</div><div class="a" style="left:0;top:96px;width:479px;height:48px;border-bottom:1px solid #e0e0e0"></div><div class="t" style="left:24px;top:114px;font-size:14px;line-height:16px;color:#333;margin-top:-2px">IP-адрес</div><div class="t" style="left:196px;top:114px;font-size:14px;line-height:16px;color:#333;margin-top:-2px">100.110.1.122</div><div class="a" style="left:0;top:144px;width:479px;height:48px;border-bottom:1px solid #e0e0e0"></div><div class="t" style="left:24px;top:162px;font-size:14px;line-height:16px;color:#333;margin-top:-2px">Имя хоста</div><div class="t" style="left:196px;top:162px;font-size:14px;line-height:16px;color:#333;margin-top:-2px">ECCM-ESR-200</div><div class="a" style="left:0;top:192px;width:479px;height:48px;border-bottom:1px solid #e0e0e0"></div><div class="t" style="left:24px;top:210px;font-size:14px;line-height:16px;color:#333;margin-top:-2px">Производитель</div><div class="t" style="left:196px;top:210px;font-size:14px;line-height:16px;color:#333;margin-top:-2px">Eltex</div><div class="a" style="left:0;top:240px;width:479px;height:48px;border-bottom:1px solid #e0e0e0"></div><div class="t" style="left:24px;top:258px;font-size:14px;line-height:16px;color:#333;margin-top:-2px">MAC-адрес</div><div class="t" style="left:196px;top:258px;font-size:14px;line-height:16px;color:#333;margin-top:-2px">cc:9d:a2:70:af:d8</div><div class="a" style="left:0;top:288px;width:479px;height:48px;border-bottom:1px solid #e0e0e0"></div><div class="t" style="left:24px;top:306px;font-size:14px;line-height:16px;color:#333;margin-top:-2px">Статус обслуживания</div><div class="t" style="left:196px;top:306px;font-size:14px;line-height:16px;color:#333;margin-top:-2px">Включено</div><div class="a" style="left:0;top:336px;width:479px;height:48px;border-bottom:1px solid #e0e0e0"></div><div class="t" style="left:24px;top:354px;font-size:14px;line-height:16px;color:#333;margin-top:-2px">Версия ПО</div><div class="t" style="left:196px;top:354px;font-size:14px;line-height:16px;color:#333;margin-top:-2px">1.23.6 build 9</div><div class="a" style="left:0;top:384px;width:479px;height:48px;border-bottom:1px solid #e0e0e0"></div><div class="t" style="left:24px;top:402px;font-size:14px;line-height:16px;color:#333;margin-top:-2px">Версия загрузчика</div><div class="t" style="left:196px;top:402px;font-size:14px;line-height:16px;color:#333;margin-top:-2px"></div><div class="a" style="left:0;top:432px;width:479px;height:48px;border-bottom:1px solid #e0e0e0"></div><div class="t" style="left:24px;top:450px;font-size:14px;line-height:16px;color:#333;margin-top:-2px">Время работы</div><div class="t" style="left:196px;top:450px;font-size:14px;line-height:16px;color:#333;margin-top:-2px"></div><div class="a" style="left:0;top:480px;width:479px;height:48px;border-bottom:1px solid #e0e0e0"></div><div class="t" style="left:24px;top:498px;font-size:14px;line-height:16px;color:#333;margin-top:-2px">Описание</div><div class="t" style="left:196px;top:490px;font-size:13.6px;line-height:16px;color:#333;margin-top:-2px">Eltex ESR-200 Service Router 1.23. build 9<br>(date 27/05/2024 time 19:20:10)</div><div class="a" style="left:0;top:528px;width:479px;height:48px;border-bottom:1px solid #e0e0e0"></div><div class="t" style="left:24px;top:538px;font-size:14px;line-height:16px;color:#333;margin-top:-2px">Контакты<br>администратора</div><div class="t" style="left:196px;top:546px;font-size:14px;line-height:16px;color:#333;margin-top:-2px">414, 4 floor</div><div class="a" style="left:0;top:576px;width:479px;height:48px;border-bottom:1px solid #e0e0e0"></div><div class="t" style="left:24px;top:594px;font-size:14px;line-height:16px;color:#333;margin-top:-2px">Аппаратная версия</div><div class="t" style="left:196px;top:594px;font-size:14px;line-height:16px;color:#333;margin-top:-2px">1v11</div><div class="a" style="left:0;top:624px;width:479px;height:48px;border-bottom:1px solid #e0e0e0"></div><div class="t" style="left:24px;top:634px;font-size:14px;line-height:16px;color:#333;margin-top:-2px">Местоположение<br>устройства</div><div class="t" style="left:196px;top:642px;font-size:14px;line-height:16px;color:#333;margin-top:-2px">server_room</div><div class="a" style="left:0;top:672px;width:479px;height:48px;border-bottom:1px solid #e0e0e0"></div><div class="t" style="left:24px;top:690px;font-size:14px;line-height:16px;color:#333;margin-top:-2px">Время добавления</div><div class="t" style="left:196px;top:690px;font-size:14px;line-height:16px;color:#333;margin-top:-2px">2024-10-08 14:12:06</div>
<div class="a" style="left:479px;top:0;width:15px;height:693px;background:#f1f1f1"></div>
<div class="a" style="left:481px;top:15px;width:11px;height:640px;background:#c1c1c1"></div>
<svg style="left:482px;top:5px" width="8" height="5"><path d="M0 5L4 0L8 5z" fill="#a3a3a3"/></svg>
<svg style="left:482px;top:683px" width="8" height="5"><path d="M0 0L8 0L4 5z" fill="#505050"/></svg>
</div>

<div class="a" style="left:1796px;top:66px;width:1px;height:892px;background:#fff"></div>
<div class="a" style="left:0;top:953px;width:1801px;height:1px;background:#fff"></div>
</div>
<div class="a" style="left:1px;top:8px;width:1px;height:940px;background:#242428"></div>
<div class="a" style="left:1797px;top:8px;width:1px;height:940px;background:#2a2a2e"></div>
<div class="a" style="left:8px;top:954px;width:1785px;height:1px;background:#242428"></div>
<div class="a" style="left:8px;top:1px;width:1785px;height:1px;background:#363632"></div>
</body></html>
